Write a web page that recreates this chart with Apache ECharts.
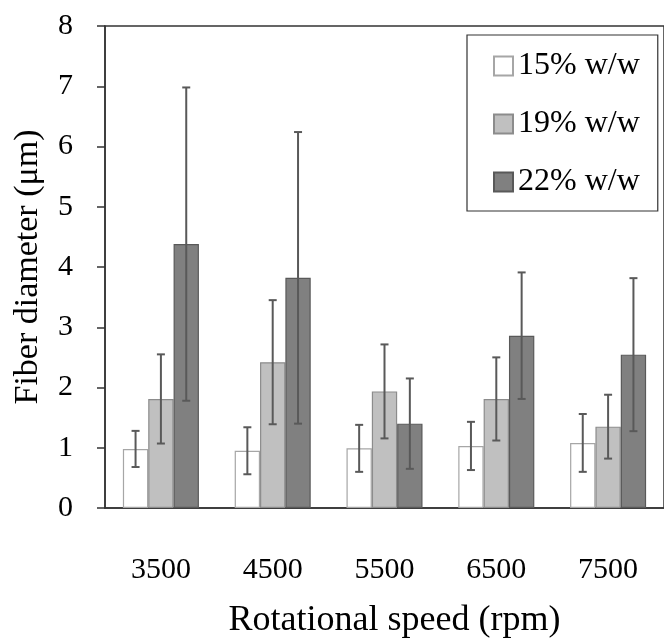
<!DOCTYPE html>
<html>
<head>
<meta charset="utf-8">
<script src="https://cdn.jsdelivr.net/npm/echarts@6/dist/echarts.min.js"></script>
<style>html,body{margin:0;padding:0;background:#fff;}#chart{width:664px;height:644px;}</style>
</head>
<body>
<div id="chart"></div>
<script>
const categories = ['3500', '4500', '5500', '6500', '7500'];
const seriesNames = ['15% w/w', '19% w/w', '22% w/w'];
const mean15 = [0.98, 0.95, 0.99, 1.03, 1.08];
const sd15   = [0.30, 0.39, 0.39, 0.40, 0.48];
const mean19 = [1.81, 2.42, 1.935, 1.81, 1.35];
const sd19   = [0.74, 1.03, 0.78, 0.69, 0.53];
const mean22 = [4.38, 3.82, 1.40, 2.86, 2.545];
const sd22   = [2.60, 2.42, 0.75, 1.05, 1.27];
const yTicks = [0, 1, 2, 3, 4, 5, 6, 7, 8];

const FONT = 'Liberation Serif';
const CAT_GAP = 0.32;
const fills = ['#ffffff', '#c0c0c0', '#808080'];
const borders = ['#a6a6a6', '#8c8c8c', '#595959'];
const means = [mean15, mean19, mean22];
const sds = [sd15, sd19, sd22];

function barSeries(k) {
  return {
    name: seriesNames[k], type: 'bar', data: means[k],
    barGap: '0%', barCategoryGap: (CAT_GAP * 100) + '%',
    itemStyle: { color: fills[k], borderColor: borders[k], borderWidth: 1.2 },
    emphasis: { disabled: true }, z: 2
  };
}
function errSeries(k) {
  return {
    type: 'custom', silent: true, z: 10,
    data: categories.map((c, i) => [i, means[k][i] - sds[k][i], means[k][i] + sds[k][i]]),
    encode: { x: 0, y: [1, 2] },
    renderItem(params, api) {
      const x = api.value(0);
      const lo = api.coord([x, api.value(1)]);
      const hi = api.coord([x, api.value(2)]);
      const band = api.size([1, 0])[0];
      const bw = band * (1 - CAT_GAP) / 3;
      const cx = lo[0] + (k - 1) * bw;
      const hw = 4;
      const st = { stroke: '#595959', lineWidth: 2 };
      return { type: 'group', children: [
        { type: 'line', shape: { x1: cx, y1: lo[1], x2: cx, y2: hi[1] }, style: st },
        { type: 'line', shape: { x1: cx - hw, y1: hi[1], x2: cx + hw, y2: hi[1] }, style: st },
        { type: 'line', shape: { x1: cx - hw, y1: lo[1], x2: cx + hw, y2: lo[1] }, style: st }
      ]};
    }
  };
}

const chart = echarts.init(document.getElementById('chart'), null, { renderer: 'canvas' });
chart.setOption({
  backgroundColor: '#ffffff',
  animation: false,
  textStyle: { fontFamily: FONT, color: '#000' },
  grid: { left: 105, top: 26, width: 564, height: 490, show: true, borderColor: '#333', borderWidth: 1.5, backgroundColor: 'transparent' },
  legend: {
    data: seriesNames, orient: 'vertical', left: 467, top: 35, icon: 'rect',
    padding: [15, 18, 13, 26], itemGap: 26, itemWidth: 19, itemHeight: 19,
    borderColor: '#333', borderWidth: 1.2, backgroundColor: '#fff',
    textStyle: { fontFamily: FONT, fontSize: 32, color: '#000', lineHeight: 30, padding: [0, 0, 0, 0] },
    selectedMode: false
  },
  xAxis: {
    type: 'category', data: categories,
    axisLine: { lineStyle: { color: '#333', width: 1.5 } },
    axisTick: { show: false },
    axisLabel: { fontFamily: FONT, fontSize: 30, color: '#000', margin: 47 },
    name: 'Rotational speed (rpm)', nameLocation: 'middle', nameGap: 95,
    nameTextStyle: { fontFamily: FONT, fontSize: 36, color: '#000', padding: [0, 0, 0, 20] }
  },
  yAxis: {
    type: 'value', min: 0, max: 8, interval: 1,
    axisLine: { show: true, lineStyle: { color: '#333', width: 1.5 } },
    axisTick: { show: true, length: 8, lineStyle: { color: '#333', width: 1.5 } },
    splitLine: { show: false },
    axisLabel: { fontFamily: FONT, fontSize: 30, color: '#000', margin: 32,
      formatter: v => yTicks.includes(v) ? String(v) : '' },
    name: 'Fiber diameter (μm)', nameLocation: 'middle', nameGap: 60,
    nameTextStyle: { fontFamily: FONT, fontSize: 34, color: '#000' }
  },
  series: [barSeries(0), barSeries(1), barSeries(2), errSeries(0), errSeries(1), errSeries(2)]
});
</script>
</body>
</html>
